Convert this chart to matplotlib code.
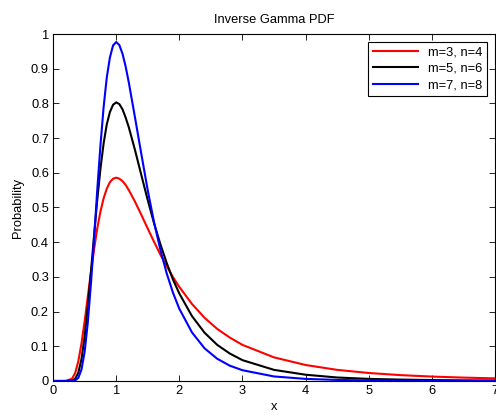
import matplotlib
matplotlib.use("Agg")
from matplotlib import pyplot as plt

# curve samples
x = [0, 0.1, 0.2, 0.3, 0.35, 0.4, 0.45, 0.5, 0.55, 0.6, 0.65, 0.7, 0.75, 0.8,
     0.85, 0.9, 0.95, 1.0, 1.05, 1.1, 1.15, 1.2, 1.3, 1.4, 1.5, 1.6, 1.7, 1.8,
     1.9, 2.0, 2.2, 2.4, 2.6, 2.8, 3.0, 3.5, 4.0, 4.5, 5.0, 5.5, 6.0, 6.5, 7.0]

red = [0, 0, 0.0001, 0.0064, 0.023, 0.057, 0.108, 0.172, 0.243, 0.314, 0.380,
       0.440, 0.488, 0.526, 0.554, 0.573, 0.583, 0.586, 0.583, 0.576, 0.565,
       0.550, 0.516, 0.478, 0.439, 0.401, 0.364, 0.331, 0.299, 0.271, 0.222,
       0.182, 0.150, 0.125, 0.104, 0.068, 0.046, 0.032, 0.023, 0.0169, 0.0127,
       0.0097, 0.0075]

black = [0, 0, 0, 0.0009, 0.0063, 0.024, 0.063, 0.127, 0.214, 0.315, 0.421,
         0.522, 0.611, 0.684, 0.739, 0.775, 0.796, 0.803, 0.798, 0.783, 0.759,
         0.731, 0.664, 0.592, 0.521, 0.454, 0.394, 0.340, 0.292, 0.252, 0.187,
         0.139, 0.104, 0.079, 0.060, 0.032, 0.018, 0.010, 0.006, 0.004, 0.0026,
         0.0017, 0.0012]

blue = [0, 0, 0, 0.0001, 0.0015, 0.009, 0.033, 0.084, 0.168, 0.281, 0.411,
        0.551, 0.678, 0.788, 0.874, 0.932, 0.967, 0.977, 0.968, 0.943, 0.906,
        0.860, 0.757, 0.652, 0.549, 0.457, 0.378, 0.310, 0.254, 0.208, 0.140,
        0.094, 0.064, 0.044, 0.031, 0.013, 0.006, 0.003, 0.0015, 0.0008,
        0.0005, 0.0003, 0.0002]

labels = ["m=3, n=4", "m=5, n=6", "m=7, n=8"]

plt.rcParams["font.family"] = ["Liberation Sans", "DejaVu Sans"]
plt.rcParams["font.size"] = 9.3

fig = plt.figure(figsize=(4.96, 4.15), dpi=100)
ax = fig.add_axes([0.107, 0.082, 0.891, 0.836])

ax.plot(x, red, color="red", linewidth=1.5, label=labels[0])
ax.plot(x, black, color="black", linewidth=1.5, label=labels[1])
ax.plot(x, blue, color="blue", linewidth=1.5, label=labels[2])

ax.set_xlim(0, 7)
ax.set_ylim(0, 1)
ax.set_xticks(range(0, 8))
ax.set_yticks([i / 10 for i in range(11)])
ax.set_yticklabels(["0"] + [f"{i / 10:g}" for i in range(1, 10)] + ["1"])
ax.tick_params(direction="in", top=True, right=True, length=4, width=0.6, pad=3)
for s in ax.spines.values():
    s.set_linewidth(0.8)

ax.set_title("Inverse Gamma PDF", fontsize=9.3, pad=8)
ax.set_xlabel("x", labelpad=3)
ax.set_ylabel("Probability", labelpad=5)

leg = ax.legend(loc="upper right", fancybox=False, edgecolor="black",
                framealpha=1, borderaxespad=0.6, handlelength=3.5,
                labelspacing=0.35, borderpad=0.35)
leg.get_frame().set_linewidth(0.8)

fig.savefig("out.png", dpi=100)
